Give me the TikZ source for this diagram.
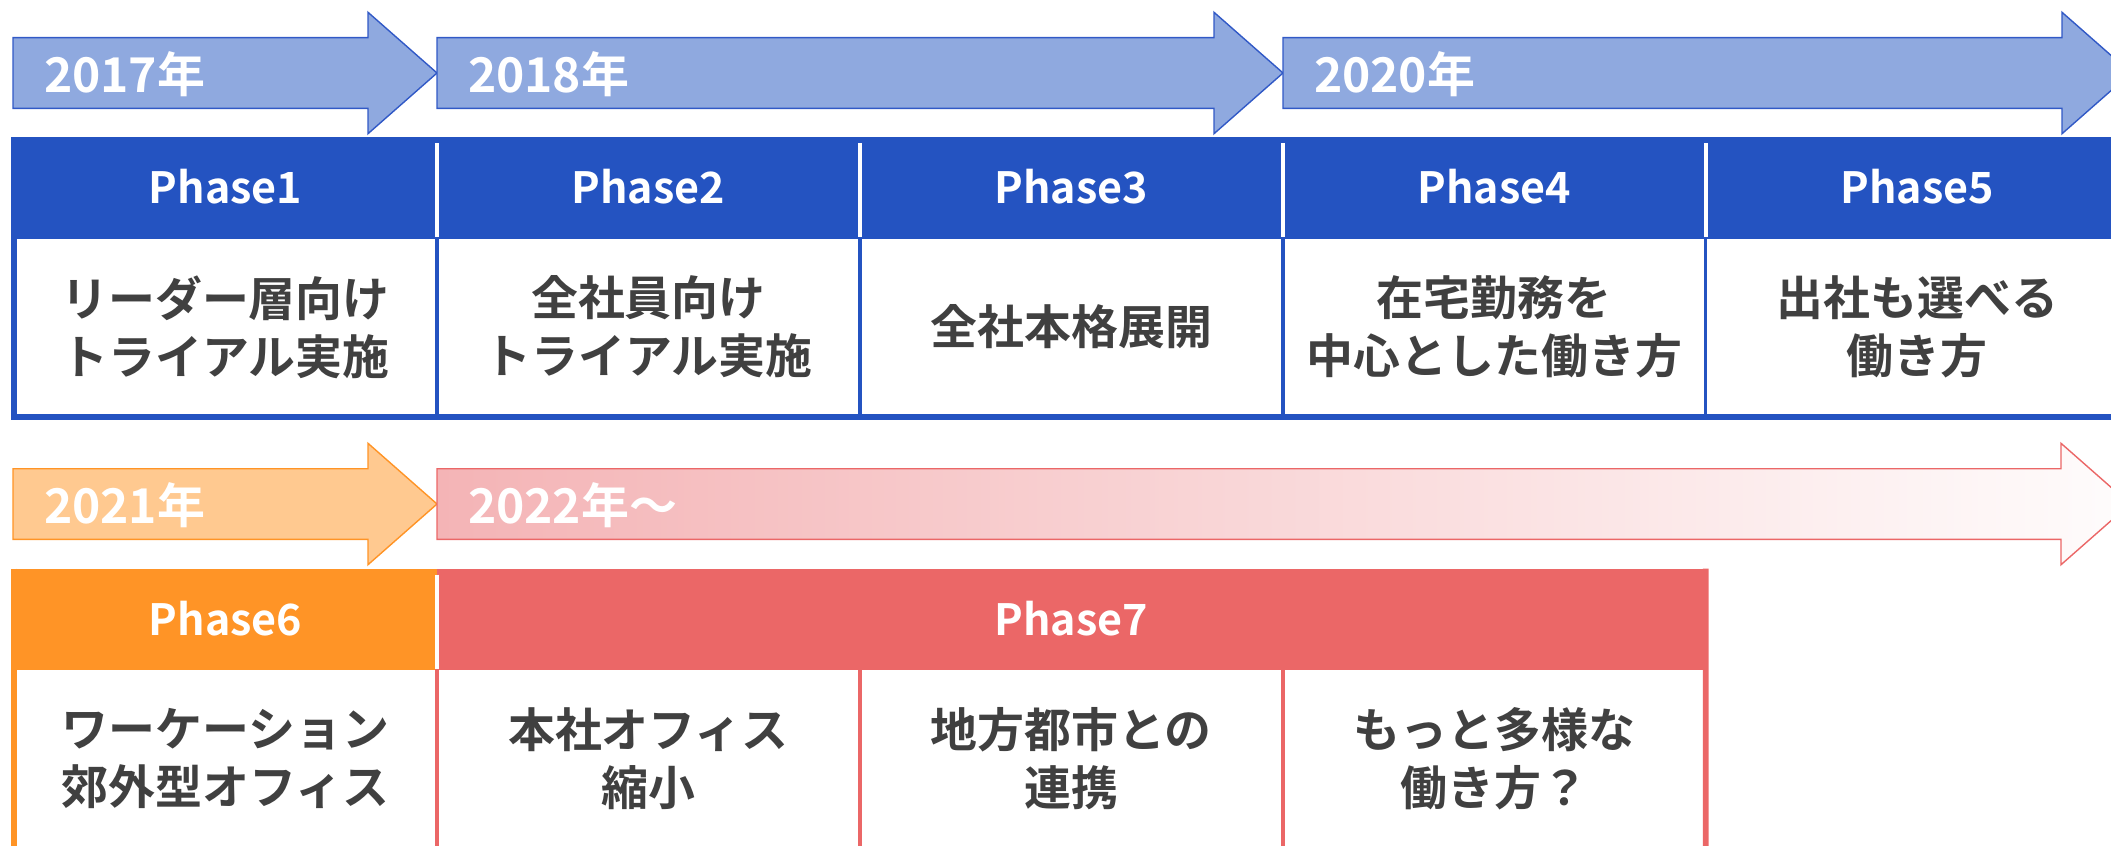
\documentclass[tikz,border=0pt]{standalone}
\usepackage{fontspec}
\setmainfont{Noto Sans CJK JP}[BoldFont={Noto Sans CJK JP Bold}]
\usetikzlibrary{positioning}

\definecolor{phaseblue}{HTML}{2453C1}
\definecolor{arrowblue}{HTML}{8FA9DF}
\definecolor{lineblue}{HTML}{3159C6}
\definecolor{phaseorange}{HTML}{FF9426}
\definecolor{arroworange}{HTML}{FFC990}
\definecolor{phasered}{HTML}{EB6767}
\definecolor{arrowpink}{HTML}{F4B4B6}
\definecolor{textgray}{HTML}{404040}

\begin{document}
\begin{tikzpicture}[x=0.02cm, y=-0.02cm, node distance=0pt,
    every node/.style={inner sep=0pt, outer sep=0pt},
    yearlabel/.style={anchor=base west, text=white, font=\bfseries\fontsize{27.3}{30}\selectfont},
    phasehead/.style={minimum width=8.46cm, minimum height=2cm, text=white, font=\bfseries\fontsize{24.5}{28}\selectfont},
    phasecell/.style={minimum width=8.46cm, minimum height=3.6cm, fill=white, draw, line width=2pt, align=center, text=textgray, font=\bfseries\fontsize{26.7}{33}\selectfont},
    arrowline/.style={line width=0.8pt},
    divider/.style={white, line width=2.3pt},
    outerframe/.style={line width=3.2pt}]
  \useasboundingbox (0,0) rectangle (2111,845);
  \clip (0,0) rectangle (2111,845);

  % Year arrows, first row
  \draw[arrowline, draw=lineblue, fill=arrowblue] (13,37.7) -- (368,37.7) -- (368,12.3) -- (437,73) -- (368,133.7) -- (368,108.3) -- (13,108.3) -- cycle;
  \draw[arrowline, draw=lineblue, fill=arrowblue] (437,37.7) -- (1214,37.7) -- (1214,12.3) -- (1283,73) -- (1214,133.7) -- (1214,108.3) -- (437,108.3) -- cycle;
  \draw[arrowline, draw=lineblue, fill=arrowblue] (1283,37.7) -- (2062,37.7) -- (2062,12.3) -- (2131,73) -- (2062,133.7) -- (2062,108.3) -- (1283,108.3) -- cycle;

  % Year arrows, second row
  \draw[arrowline, draw=phaseorange, fill=arroworange] (13,468.7) -- (368,468.7) -- (368,443.3) -- (437,504) -- (368,564.7) -- (368,539.3) -- (13,539.3) -- cycle;
  \draw[arrowline, draw=phasered, left color=arrowpink, right color=white!96!arrowpink] (437,468.7) -- (2061,468.7) -- (2061,443.3) -- (2130,504) -- (2061,564.7) -- (2061,539.3) -- (437,539.3) -- cycle;

  \node[yearlabel] (y2017) at (44,92) {2017年};
  \node[yearlabel] (y2018) at (468,92) {2018年};
  \node[yearlabel] (y2020) at (1314,92) {2020年};
  \node[yearlabel] (y2021) at (44,523) {2021年};
  \node[yearlabel] (y2022) at (468,523) {2022年〜};

  % Define phase headers, first row
  \node[phasehead, fill=phaseblue] (ph1) at (225.5,187) {Phase1};
  \node[phasehead, fill=phaseblue, right=of ph1] (ph2) {Phase2};
  \node[phasehead, fill=phaseblue, right=of ph2] (ph3) {Phase3};
  \node[phasehead, fill=phaseblue, right=of ph3] (ph4) {Phase4};
  \node[phasehead, fill=phaseblue, right=of ph4] (ph5) {Phase5};

  \node[phasecell, draw=phaseblue, below=of ph1] (ph1body) {リーダー層向け\\トライアル実施};
  \node[phasecell, draw=phaseblue, below=of ph2] (ph2body) {全社員向け\\トライアル実施};
  \node[phasecell, draw=phaseblue, below=of ph3] (ph3body) {全社本格展開};
  \node[phasecell, draw=phaseblue, below=of ph4] (ph4body) {在宅勤務を\\中心とした働き方};
  \node[phasecell, draw=phaseblue, below=of ph5] (ph5body) {出社も選べる\\働き方};

  % Define phase headers, second row
  \node[phasehead, fill=phaseorange] (ph6) at (225.5,618.5) {Phase6};
  \node[phasehead, fill=phasered, minimum width=25.38cm, right=of ph6] (ph7) {Phase7};

  \node[phasecell, draw=phaseorange, below=of ph6] (ph6body) {ワーケーション\\郊外型オフィス};
  \node[phasecell, draw=phasered, right=of ph6body] (ph7a) {本社オフィス\\縮小};
  \node[phasecell, draw=phasered, right=of ph7a] (ph7b) {地方都市との\\連携};
  \node[phasecell, draw=phasered, right=of ph7b] (ph7c) {もっと多様な\\働き方？};

  % Draw frames and header dividers
  \draw[outerframe, phaseblue] (ph1.north west) -- (ph1body.south west) -- (ph5body.south east);
  \draw[outerframe, phaseorange] (ph6.north west) -- (ph6body.south west) -- (ph6body.south east);
  \draw[outerframe, phasered] (ph7.north east) -- (ph7c.south east);

  \foreach \h in {ph1,ph2,ph3,ph4,ph6}
    \draw[divider] ([yshift=-0.12cm]\h.north east) -- (\h.south east);
\end{tikzpicture}
\end{document}
